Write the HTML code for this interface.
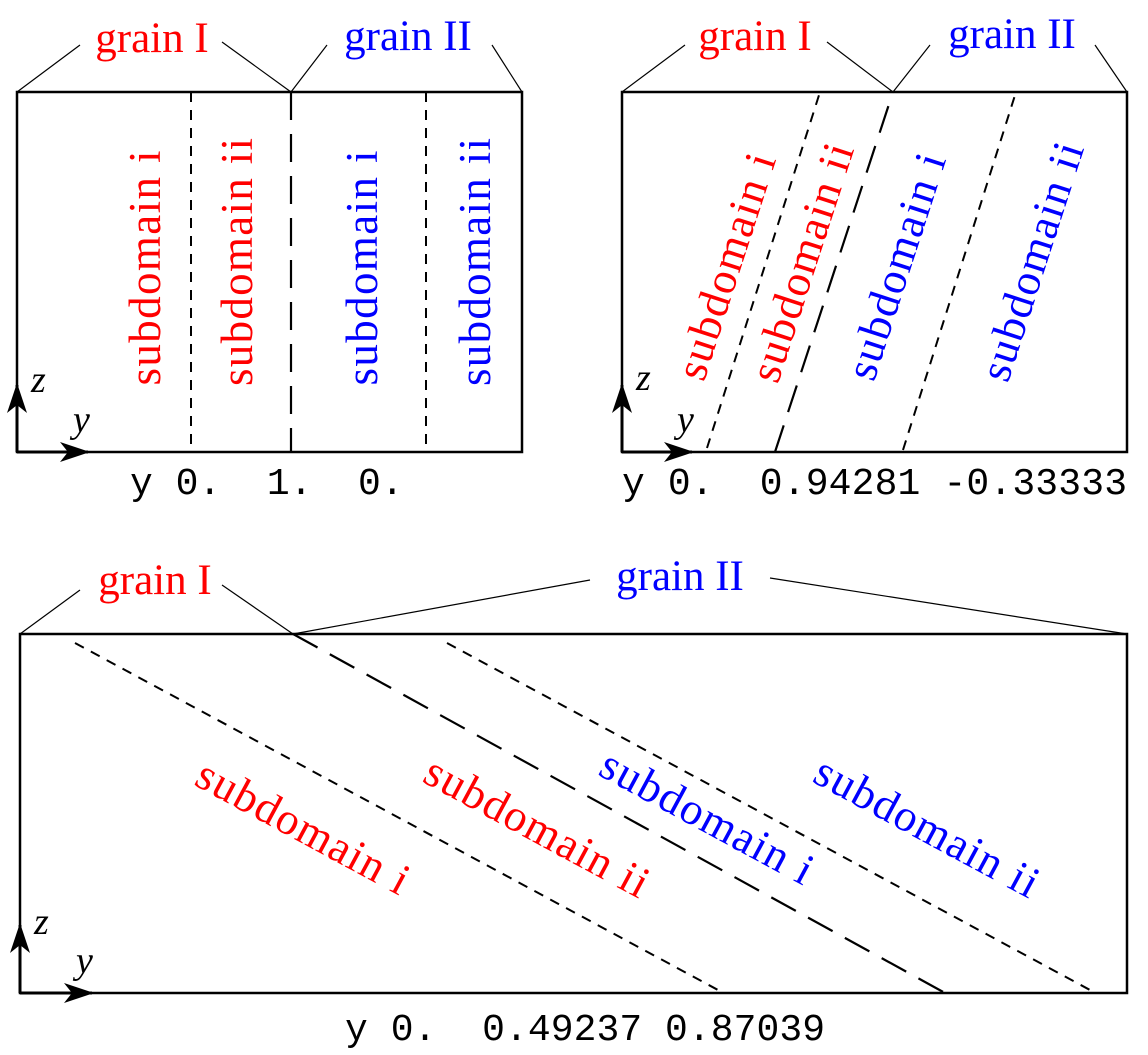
<!DOCTYPE html>
<html><head><meta charset="utf-8"><style>
html,body{margin:0;padding:0;background:#fff;}
svg{display:block;}
.lbl{font-family:"Liberation Serif",serif;font-size:45px;}
.gr{font-family:"Liberation Serif",serif;font-size:43px;}
.ax{font-family:"Liberation Serif",serif;font-style:italic;font-size:38px;}
.mono{font-family:"Liberation Mono",monospace;font-size:38px;}
</style></head><body>
<svg width="1148" height="1055" viewBox="0 0 1148 1055">
<defs>
<marker id="ah" viewBox="0 0 30 20" refX="28" refY="10" markerWidth="30" markerHeight="20" markerUnits="userSpaceOnUse" orient="auto">
<path d="M0,0 L30,10 L0,20 L8,10 Z" fill="#000"/>
</marker>
</defs>

<!-- Panel 1 -->
<g>
<rect x="17" y="92" width="505" height="360" fill="none" stroke="#000" stroke-width="2.5"/>
<line x1="191" y1="92" x2="191" y2="452" stroke="#000" stroke-width="2" stroke-dasharray="10,8"/>
<line x1="291" y1="92" x2="291" y2="452" stroke="#000" stroke-width="2.2" stroke-dasharray="28,14"/>
<line x1="426" y1="92" x2="426" y2="452" stroke="#000" stroke-width="2" stroke-dasharray="10,8"/>
<g stroke="#000" stroke-width="1.2">
<line x1="17" y1="92" x2="80" y2="45"/><line x1="222" y1="42" x2="291" y2="92"/>
<line x1="291" y1="92" x2="327" y2="45"/><line x1="492" y1="45" x2="522" y2="92"/>
</g>
<text x="152" y="52" text-anchor="middle" class="gr" fill="#f00">grain I</text>
<text x="408" y="50" text-anchor="middle" class="gr" fill="#00f">grain II</text>
<text transform="translate(160,268) rotate(-90)" text-anchor="middle" class="lbl" fill="#f00" textLength="235">subdomain i</text>
<text transform="translate(252,262) rotate(-90)" text-anchor="middle" class="lbl" fill="#f00" textLength="248">subdomain ii</text>
<text transform="translate(377,268) rotate(-90)" text-anchor="middle" class="lbl" fill="#00f" textLength="235">subdomain i</text>
<text transform="translate(490,262) rotate(-90)" text-anchor="middle" class="lbl" fill="#00f" textLength="248">subdomain ii</text>
<line x1="17" y1="452" x2="17" y2="385" stroke="#000" stroke-width="3" marker-end="url(#ah)"/>
<line x1="17" y1="452" x2="88" y2="452" stroke="#000" stroke-width="3" marker-end="url(#ah)"/>
<text x="31" y="392" class="ax">z</text>
<text x="73" y="432" class="ax">y</text>
<text x="130" y="494" class="mono" xml:space="preserve">y 0.  1.  0.</text>
</g>

<!-- Panel 2 -->
<g>
<rect x="622" y="92" width="505" height="360" fill="none" stroke="#000" stroke-width="2.5"/>
<line x1="707" y1="448" x2="820" y2="92" stroke="#000" stroke-width="2" stroke-dasharray="10,8"/>
<line x1="775" y1="452" x2="893" y2="92" stroke="#000" stroke-width="2.2" stroke-dasharray="28,14"/>
<line x1="903" y1="450" x2="1016" y2="92" stroke="#000" stroke-width="2" stroke-dasharray="10,8"/>
<g stroke="#000" stroke-width="1.2">
<line x1="622" y1="92" x2="685" y2="45"/><line x1="827" y1="42" x2="893" y2="92"/>
<line x1="893" y1="92" x2="930" y2="45"/><line x1="1095" y1="45" x2="1127" y2="92"/>
</g>
<text x="755" y="50" text-anchor="middle" class="gr" fill="#f00">grain I</text>
<text x="1012" y="48" text-anchor="middle" class="gr" fill="#00f">grain II</text>
<text transform="translate(740,271) rotate(-72)" text-anchor="middle" class="lbl" fill="#f00" textLength="235">subdomain i</text>
<text transform="translate(816,267) rotate(-72)" text-anchor="middle" class="lbl" fill="#f00" textLength="248">subdomain ii</text>
<text transform="translate(910,271) rotate(-72)" text-anchor="middle" class="lbl" fill="#00f" textLength="235">subdomain i</text>
<text transform="translate(1046,266) rotate(-72)" text-anchor="middle" class="lbl" fill="#00f" textLength="248">subdomain ii</text>
<line x1="622" y1="452" x2="622" y2="385" stroke="#000" stroke-width="3" marker-end="url(#ah)"/>
<line x1="622" y1="452" x2="692" y2="452" stroke="#000" stroke-width="3" marker-end="url(#ah)"/>
<text x="636" y="390" class="ax">z</text>
<text x="677" y="432" class="ax">y</text>
<text x="622" y="494" class="mono" xml:space="preserve" textLength="505">y 0.  0.94281 -0.33333</text>
</g>

<!-- Panel 3 -->
<g>
<rect x="20" y="634" width="1107" height="359" fill="none" stroke="#000" stroke-width="2.5"/>
<line x1="75" y1="643" x2="718" y2="990" stroke="#000" stroke-width="2" stroke-dasharray="10,8"/>
<line x1="293" y1="634" x2="945" y2="993" stroke="#000" stroke-width="2.2" stroke-dasharray="28,14"/>
<line x1="447" y1="643" x2="1090" y2="990" stroke="#000" stroke-width="2" stroke-dasharray="10,8"/>
<g stroke="#000" stroke-width="1.2">
<line x1="20" y1="634" x2="80" y2="590"/><line x1="222" y1="585" x2="293" y2="634"/>
<line x1="293" y1="634" x2="590" y2="580"/><line x1="770" y1="578" x2="1127" y2="634"/>
</g>
<text x="155" y="594" text-anchor="middle" class="gr" fill="#f00">grain I</text>
<text x="680" y="590" text-anchor="middle" class="gr" fill="#00f">grain II</text>
<text transform="translate(296,840) rotate(28.4)" text-anchor="middle" class="lbl" fill="#f00" textLength="235">subdomain i</text>
<text transform="translate(530,840) rotate(28.4)" text-anchor="middle" class="lbl" fill="#f00" textLength="248">subdomain ii</text>
<text transform="translate(700,830) rotate(28.4)" text-anchor="middle" class="lbl" fill="#00f" textLength="235">subdomain i</text>
<text transform="translate(920,840) rotate(28.4)" text-anchor="middle" class="lbl" fill="#00f" textLength="248">subdomain ii</text>
<line x1="20" y1="993" x2="20" y2="925" stroke="#000" stroke-width="3" marker-end="url(#ah)"/>
<line x1="20" y1="993" x2="92" y2="993" stroke="#000" stroke-width="3" marker-end="url(#ah)"/>
<text x="34" y="934" class="ax">z</text>
<text x="76" y="973" class="ax">y</text>
<text x="345" y="1040" class="mono" xml:space="preserve" textLength="480">y 0.  0.49237 0.87039</text>
</g>
</svg>
</body></html>
